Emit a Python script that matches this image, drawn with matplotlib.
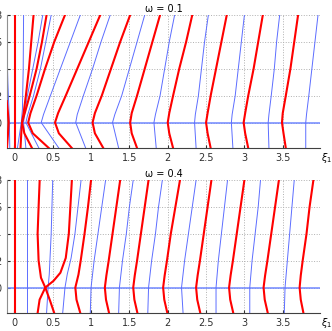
import matplotlib
matplotlib.use("Agg")
import matplotlib.pyplot as plt

# ---- data, points are (xi1, xi2) ----
# top panel, omega = 0.1
top_red = [
    [(-0.1, 1.6), (-0.085, 0.8), (-0.075, 0), (-0.085, -1.0), (-0.097, -1.9)],
    [(0.013, 8), (0.013, -1.9)],
    [(0.25, 8), (0.22, 6), (0.19, 4), (0.15, 2), (0.12, 0.7), (0.1, 0), (0.13, -0.8), (0.23, -1.9)],
    [(0.42, 8), (0.36, 6), (0.29, 4), (0.2, 2), (0.13, 0.6), (0.1, 0), (0.09, -0.8), (0.08, -1.9)],
    [(0.66, 8), (0.52, 6), (0.4, 4), (0.29, 2), (0.21, 0.7), (0.18, 0), (0.24, -0.8), (0.45, -1.9)],
    [(1.12, 8), (0.97, 6), (0.82, 4), (0.67, 2), (0.57, 0.7), (0.53, 0), (0.58, -0.8), (0.75, -1.9)],
    [(1.51, 8), (1.38, 6), (1.26, 4), (1.14, 2), (1.05, 0.7), (1.02, 0), (1.05, -0.8), (1.16, -1.9)],
    [(1.9, 8), (1.8, 6), (1.7, 4), (1.6, 2), (1.53, 0.7), (1.51, 0), (1.53, -0.8), (1.6, -1.9)],
    [(2.32, 8), (2.24, 6), (2.15, 4), (2.07, 2), (2.02, 0.7), (2.0, 0), (2.02, -0.8), (2.07, -1.9)],
    [(2.77, 8), (2.7, 6), (2.63, 4), (2.56, 2), (2.52, 0.7), (2.5, 0), (2.52, -0.8), (2.56, -1.9)],
    [(3.24, 8), (3.18, 6), (3.12, 4), (3.05, 2), (3.01, 0.7), (2.99, 0), (3.01, -0.8), (3.05, -1.9)],
    [(3.7, 8), (3.65, 6), (3.6, 4), (3.54, 2), (3.5, 0.7), (3.49, 0), (3.51, -0.8), (3.54, -1.9)],
]
top_blue = [
    [(-0.1, 6.2), (-0.085, 3.0), (-0.065, 0), (-0.06, -1.9)],
    [(0.12, 8), (0.115, 4), (0.105, 1), (0.09, 0), (0.04, -1.9)],
    [(0.37, 8), (0.31, 6), (0.24, 4), (0.17, 2), (0.13, 0.5), (0.12, 0), (0.15, -1.9)],
    [(0.48, 8), (0.41, 6), (0.34, 4), (0.25, 2), (0.17, 0.5), (0.15, 0), (0.32, -1.9)],
    [(0.86, 8), (0.73, 6), (0.6, 4), (0.47, 2), (0.38, 0.6), (0.35, 0), (0.58, -1.9)],
    [(1.25, 8), (1.13, 6), (1.02, 4), (0.9, 2), (0.82, 0.6), (0.8, 0), (0.93, -1.9)],
    [(1.7, 8), (1.6, 6), (1.5, 4), (1.4, 2), (1.31, 0.6), (1.28, 0), (1.36, -1.9)],
    [(2.09, 8), (2.02, 6), (1.96, 4), (1.9, 2), (1.84, 0.6), (1.82, 0), (1.85, -1.9)],
    [(2.53, 8), (2.48, 6), (2.44, 4), (2.4, 2), (2.36, 0.6), (2.35, 0), (2.37, -1.9)],
    [(3.0, 8), (2.96, 6), (2.92, 4), (2.88, 2), (2.84, 0.6), (2.83, 0), (2.85, -1.9)],
    [(3.46, 8), (3.42, 6), (3.39, 4), (3.35, 2), (3.32, 0.6), (3.31, 0), (3.32, -1.9)],
    [(3.96, 8), (3.92, 6), (3.88, 4), (3.84, 2), (3.81, 0.6), (3.8, 0), (3.8, -1.9)],
]

# bottom panel, omega = 0.4
bot_red = [
    [(0.013, 8), (0.013, -1.9)],
    [(0.33, 8), (0.316, 6), (0.303, 4), (0.316, 2), (0.347, 0.73), (0.403, 0), (0.468, -1.02), (0.52, -1.9)],
    [(0.75, 8), (0.73, 6), (0.71, 4), (0.67, 2.2), (0.6, 1.1), (0.511, 0.5), (0.403, 0), (0.329, -0.9), (0.303, -1.9)],
    [(1.0, 8), (0.96, 6), (0.915, 4), (0.865, 2), (0.836, 0.97), (0.795, 0), (0.81, -0.9), (0.86, -1.9)],
    [(1.38, 8), (1.33, 6), (1.28, 4), (1.23, 2), (1.2, 0.9), (1.18, 0), (1.195, -0.9), (1.235, -1.9)],
    [(1.75, 8), (1.7, 6), (1.65, 4), (1.6, 2), (1.57, 0.9), (1.55, 0), (1.565, -0.9), (1.605, -1.9)],
    [(2.16, 8), (2.1, 6), (2.04, 4), (1.99, 2), (1.96, 0.9), (1.94, 0), (1.955, -0.9), (1.995, -1.9)],
    [(2.57, 8), (2.52, 6), (2.47, 4), (2.42, 2), (2.39, 0.9), (2.37, 0), (2.385, -0.9), (2.425, -1.9)],
    [(3.0, 8), (2.95, 6), (2.9, 4), (2.85, 2), (2.82, 0.9), (2.8, 0), (2.815, -0.9), (2.855, -1.9)],
    [(3.45, 8), (3.4, 6), (3.35, 4), (3.3, 2), (3.27, 0.9), (3.25, 0), (3.265, -0.9), (3.305, -1.9)],
    [(3.9, 8), (3.85, 6), (3.81, 4), (3.76, 2), (3.735, 0.9), (3.72, 0), (3.735, -0.9), (3.77, -1.9)],
]
bot_blue = [
    [(0.165, 8), (0.165, -1.9)],
    [(0.5, 8), (0.48, 4), (0.455, 1), (0.44, 0), (0.42, -1.9)],
    [(0.87, 8), (0.83, 6), (0.79, 4), (0.74, 2.2), (0.69, 1), (0.66, 0), (0.63, -1.9)],
    [(1.19, 8), (1.14, 6), (1.09, 4), (1.04, 2), (1.0, 0), (0.99, -1.9)],
    [(1.55, 8), (1.5, 6), (1.46, 4), (1.41, 2), (1.37, 0), (1.36, -1.9)],
    [(1.93, 8), (1.88, 6), (1.84, 4), (1.79, 2), (1.75, 0), (1.74, -1.9)],
    [(2.37, 8), (2.32, 6), (2.27, 4), (2.22, 2), (2.18, 0), (2.2, -1.9)],
    [(2.78, 8), (2.74, 6), (2.7, 4), (2.66, 2), (2.63, 0), (2.63, -1.9)],
    [(3.21, 8), (3.18, 6), (3.14, 4), (3.1, 2), (3.07, 0), (3.07, -1.9)],
    [(3.65, 8), (3.62, 6), (3.59, 4), (3.56, 2), (3.53, 0), (3.52, -1.9)],
    [(3.98, 1.07), (3.98, -1.05)],
]

panels = [(0.1, top_red, top_blue), (0.4, bot_red, bot_blue)]
xticks = [0, 0.5, 1, 1.5, 2, 2.5, 3, 3.5]
yticks = [0, 2, 4, 6, 8]

fig = plt.figure(figsize=(3.32, 3.31), dpi=100)
bottoms = [0.5538, 0.0553]

for (omega, reds, blues), b in zip(panels, bottoms):
    ax = fig.add_axes([0.0202, b, 0.9446, 0.4009])
    ax.axhline(0, color="#7088ff", lw=1.1, zorder=2)
    for c in blues:
        xs, ys = zip(*c)
        ax.plot(xs, ys, color="#5c6dff", lw=0.7, zorder=2)
    for c in reds:
        xs, ys = zip(*c)
        ax.plot(xs, ys, color="red", lw=1.5, zorder=3)
    ax.set_xlim(-0.1, 3.99)
    ax.set_ylim(-1.87, 8)
    ax.set_xticks(xticks)
    ax.set_xticklabels([("%g" % t) for t in xticks])
    ax.set_yticks(yticks)
    ax.grid(True, color="#b0b0b0", ls=":", lw=0.7)
    ax.spines["top"].set_visible(False)
    ax.spines["right"].set_visible(False)
    ax.spines["left"].set_color("#909090")
    ax.spines["bottom"].set_color("#404040")
    ax.tick_params(direction="in", length=2, labelsize=7, pad=4, colors="#303030")
    ax.set_title("ω = %g" % omega, fontsize=7, pad=2)
    ax.text(1.003, -0.08, r"$\xi_1$", transform=ax.transAxes, fontsize=7,
            va="center", ha="left")

fig.savefig("out.png", dpi=100)
